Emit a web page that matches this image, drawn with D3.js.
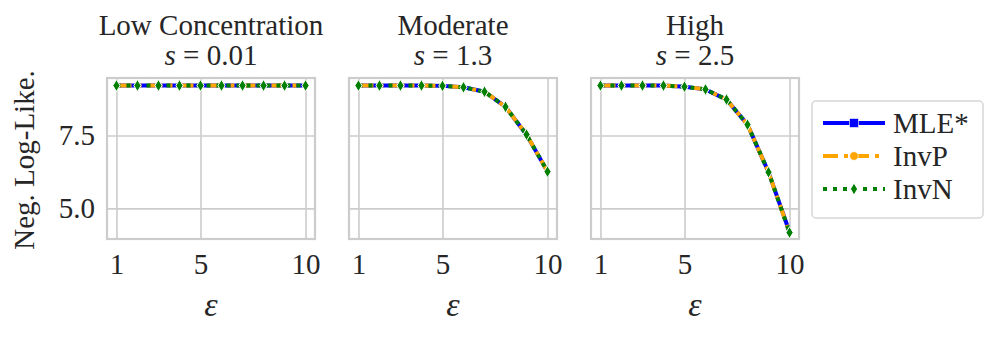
<!DOCTYPE html>
<html lang="en">
<head>
<meta charset="utf-8">
<title>Neg. Log-Like. vs epsilon</title>
<style>
  html,body { margin:0; padding:0; background:#fff; }
  svg { display:block; }
  text { font-family:"Liberation Serif","Times New Roman",serif; fill:#262626; }
</style>
<script src="https://d3js.org/d3.v7.min.js"></script>
</head>
<body>
<svg width="997" height="337"></svg>
<script>
// data
const eps = [1, 2, 3, 4, 5, 6, 7, 8, 9, 10];

const lowMLE  = [9.21, 9.21, 9.21, 9.21, 9.21, 9.21, 9.21, 9.21, 9.21, 9.21];
const lowInvP = [9.21, 9.21, 9.21, 9.21, 9.21, 9.21, 9.21, 9.21, 9.21, 9.21];
const lowInvN = [9.21, 9.21, 9.21, 9.21, 9.21, 9.21, 9.21, 9.21, 9.21, 9.21];

const modMLE  = [9.21, 9.21, 9.21, 9.21, 9.20, 9.15, 9.00, 8.48, 7.52, 6.26];
const modInvP = [9.21, 9.21, 9.21, 9.21, 9.20, 9.15, 9.00, 8.48, 7.53, 6.26];
const modInvN = [9.21, 9.21, 9.21, 9.21, 9.20, 9.15, 9.00, 8.48, 7.53, 6.26];

const highMLE  = [9.21, 9.21, 9.21, 9.21, 9.17, 9.08, 8.73, 7.87, 6.24, 4.19];
const highInvP = [9.21, 9.21, 9.21, 9.21, 9.17, 9.08, 8.73, 7.87, 6.24, 4.17];
const highInvN = [9.21, 9.21, 9.21, 9.21, 9.17, 9.08, 8.73, 7.87, 6.24, 4.17];

const titles    = ["Low Concentration", "Moderate", "High"];
const sValues   = ["0.01", "1.3", "2.5"];
const xTicks    = [1, 5, 10];
const yTicks    = [5.0, 7.5];
const seriesNames = ["MLE*", "InvP", "InvN"];

const panels = [
  [lowMLE, lowInvP, lowInvN],
  [modMLE, modInvP, modInvN],
  [highMLE, highInvP, highInvN]
];

const styles = [
  {color:"#0000ff", dash:null,        marker:"square"},
  {color:"#ffa500", dash:"15,6,4,6",  marker:"circle"},
  {color:"#008000", dash:"4,6",       marker:"diamond"}
];

const svg = d3.select("svg");
const grey = "#cccccc";
const fs = 29;

const panelLeft = [107, 349, 591];
const pw = 208, plotTop = 78, plotBottom = 239;

const y = d3.scaleLinear().domain([3.95, 9.47]).range([plotBottom, plotTop]);

// thin diamond like matplotlib 'd'
const diamond = d3.symbol().type({
  draw(ctx) {
    ctx.moveTo(0, -6); ctx.lineTo(3.6, 0); ctx.lineTo(0, 6); ctx.lineTo(-3.6, 0); ctx.closePath();
  }
});

function drawMarker(g, kind, color, cx, cy) {
  if (kind === "square") {
    g.append("rect").attr("x", cx - 4.5).attr("y", cy - 4.5)
      .attr("width", 9).attr("height", 9).attr("fill", color)
      .attr("stroke", "#fff").attr("stroke-width", 0.6);
  } else if (kind === "circle") {
    g.append("circle").attr("cx", cx).attr("cy", cy).attr("r", 4.3).attr("fill", color)
      .attr("stroke", "#fff").attr("stroke-width", 0.6);
  } else {
    g.append("path").attr("d", diamond()).attr("fill", color)
      .attr("stroke", "#fff").attr("stroke-width", 1)
      .attr("transform", `translate(${cx},${cy})`);
  }
}

function styleAxis(a) {
  a.select(".domain").remove();
  a.selectAll("line").attr("stroke", grey).attr("stroke-width", 1.6);
  a.selectAll("text").attr("font-size", fs).attr("fill", "#262626")
    .style("font-family", "'Liberation Serif', serif");
}

panels.forEach((series, p) => {
  const x0 = panelLeft[p];
  const x = d3.scaleLinear().domain([0.55, 10.45]).range([x0, x0 + pw]);
  const g = svg.append("g");

  // grid + tick labels
  g.append("g").attr("transform", `translate(0,${plotBottom})`)
    .call(d3.axisBottom(x).tickValues(xTicks).tickSize(-(plotBottom - plotTop))
      .tickFormat(d3.format("d")).tickPadding(14))
    .call(styleAxis);

  g.append("g").attr("transform", `translate(${x0},0)`)
    .call(d3.axisLeft(y).tickValues(yTicks).tickSize(-pw)
      .tickFormat(p === 0 ? d3.format(".1f") : () => "").tickPadding(12))
    .call(styleAxis);

  // frame
  g.append("rect").attr("x", x0).attr("y", plotTop).attr("width", pw).attr("height", plotBottom - plotTop)
    .attr("fill", "none").attr("stroke", grey).attr("stroke-width", 2.2);

  // lines, only the last series shows its markers in the panels
  const line = d3.line().x((d, i) => x(eps[i])).y(d => y(d));
  series.forEach((vals, k) => {
    const st = styles[k];
    g.append("path").datum(vals).attr("d", line).attr("fill", "none")
      .attr("stroke", st.color).attr("stroke-width", 4)
      .attr("stroke-dasharray", st.dash);
  });
  const mg = g.append("g");
  series[2].forEach((v, i) => drawMarker(mg, styles[2].marker, styles[2].color, x(eps[i]), y(v)));

  // titles
  const cx = x0 + pw / 2;
  g.append("text").attr("x", cx).attr("y", 35).attr("text-anchor", "middle")
    .attr("font-size", fs).text(titles[p]);
  const t2 = g.append("text").attr("x", cx).attr("y", 65).attr("text-anchor", "middle")
    .attr("font-size", fs);
  t2.append("tspan").attr("font-style", "italic").text("s");
  t2.append("tspan").text(" = " + sValues[p]);

  // x label
  g.append("text").attr("x", cx).attr("y", 316).attr("text-anchor", "middle")
    .attr("font-size", 34).attr("font-style", "italic").text("ε");
});

// y label
svg.append("text").attr("transform", "translate(34,160) rotate(-90)")
  .attr("text-anchor", "middle").attr("font-size", fs).text("Neg. Log-Like.");

// legend
const lg = svg.append("g");
lg.append("rect").attr("x", 812).attr("y", 101).attr("width", 171).attr("height", 117)
  .attr("rx", 4).attr("fill", "#fff").attr("stroke", "#d6d6d6").attr("stroke-width", 1.5);
seriesNames.forEach((name, k) => {
  const st = styles[k];
  const ly = 123 + k * 33;
  lg.append("line").attr("x1", 823).attr("x2", 885).attr("y1", ly).attr("y2", ly)
    .attr("stroke", st.color).attr("stroke-width", 4).attr("stroke-dasharray", st.dash);
  drawMarker(lg, st.marker, st.color, 854, ly);
  lg.append("text").attr("x", 893).attr("y", ly).attr("dy", "0.35em")
    .attr("font-size", fs).text(name);
});
</script>
</body>
</html>
